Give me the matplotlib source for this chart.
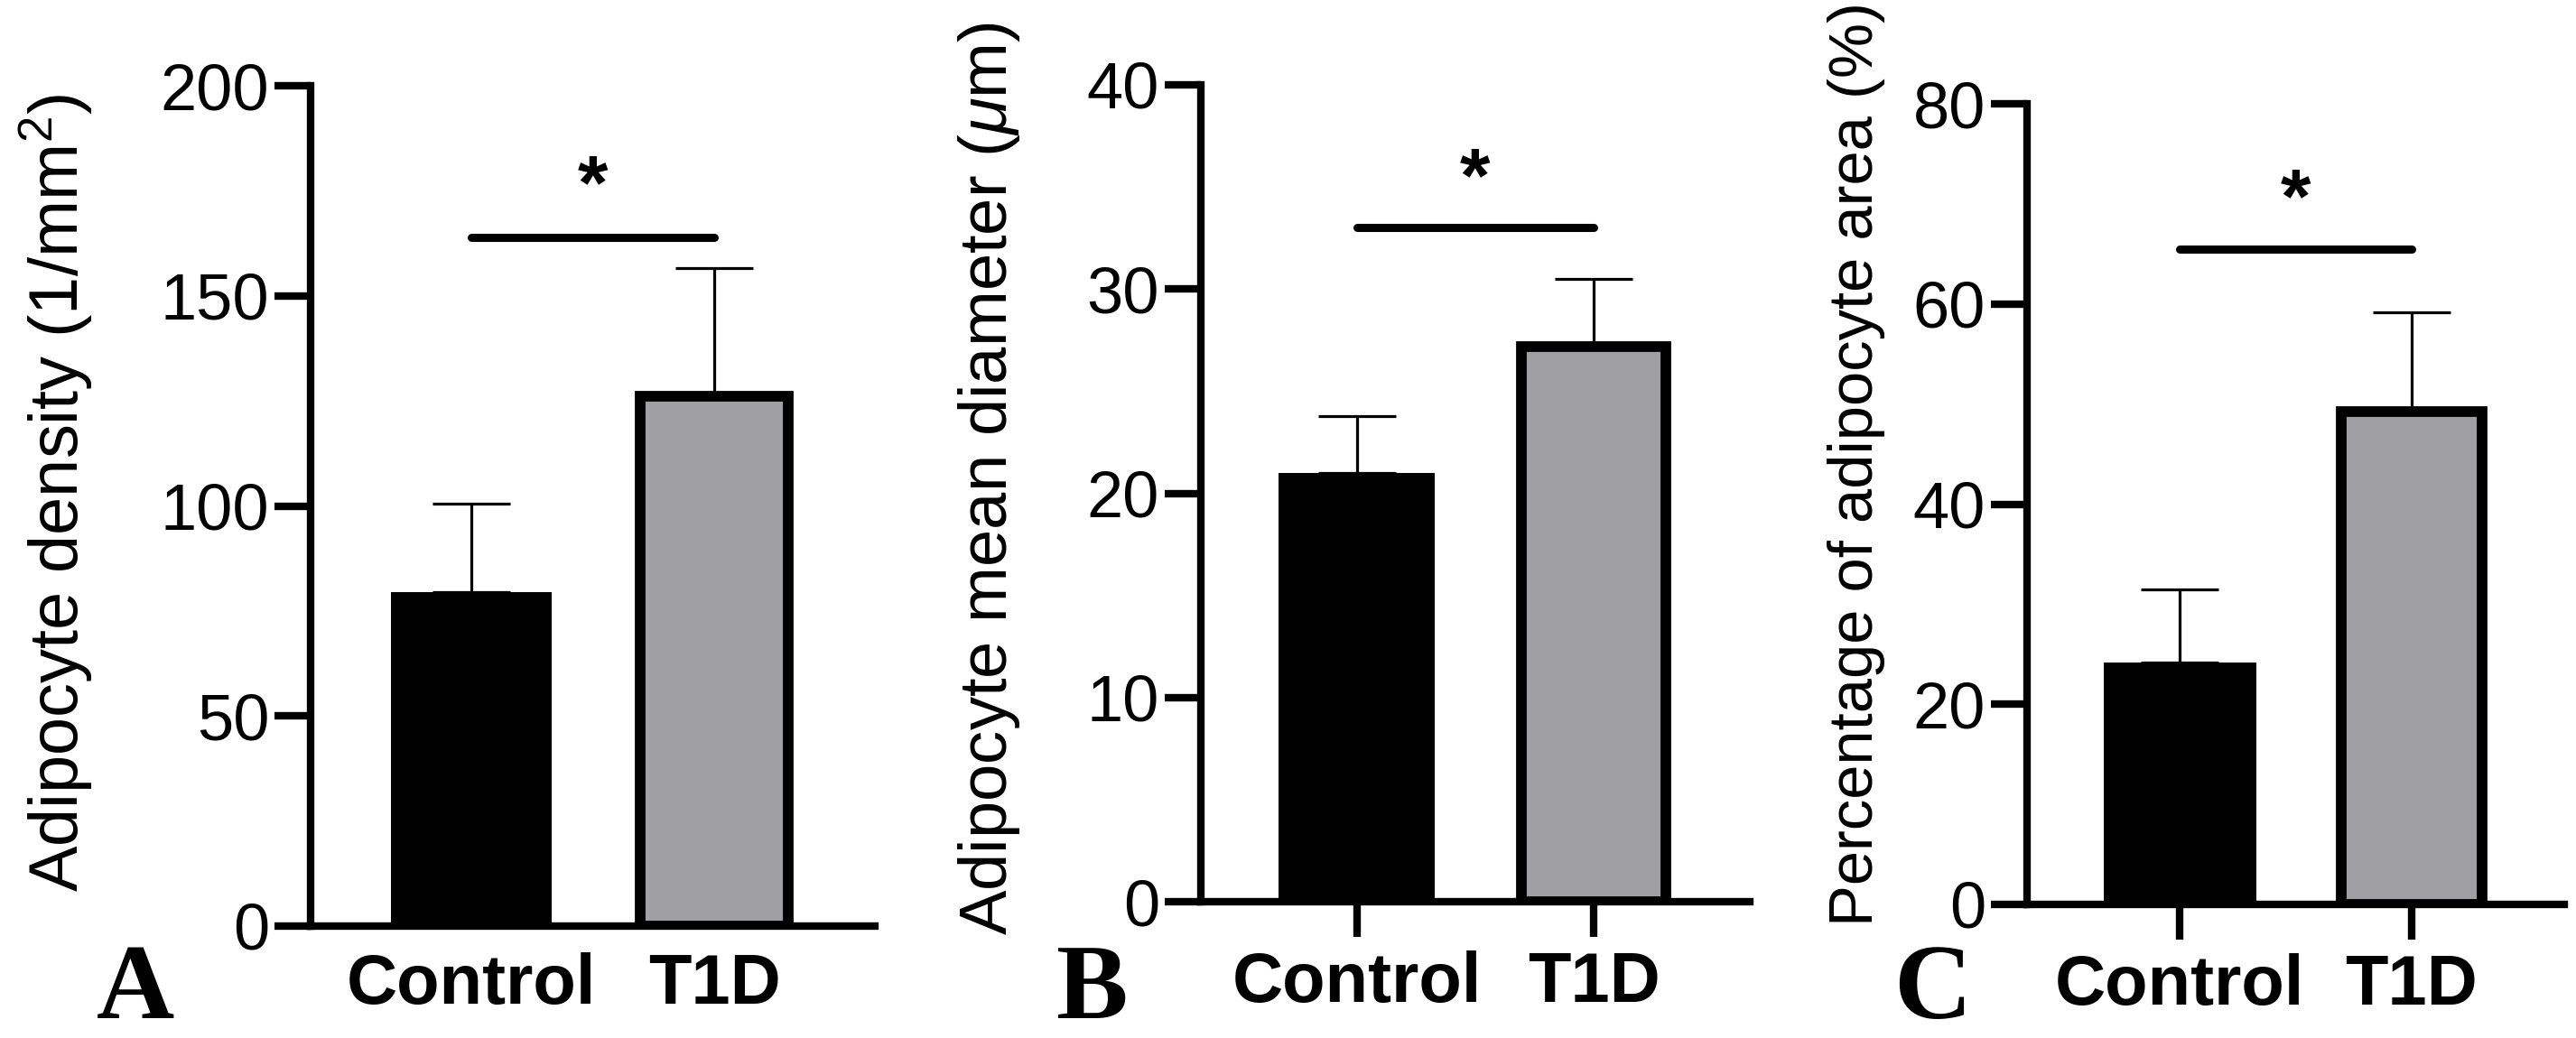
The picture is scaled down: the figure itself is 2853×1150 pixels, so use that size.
import matplotlib.pyplot as plt
import numpy as np

plt.rcParams['font.family'] = ['Liberation Sans', 'DejaVu Sans']
plt.rcParams['mathtext.fontset'] = 'custom'
plt.rcParams['mathtext.rm'] = 'Liberation Sans'
plt.rcParams['mathtext.it'] = 'Liberation Sans:italic'

#%% ======= DATA =============================
groups = ["Control", "T1D"]

density_mean = [79.5, 126.0]
density_sem = [21.0, 30.5]

diameter_mean = [21.0, 27.2]
diameter_sem = [2.8, 3.3]

area_mean = [24.2, 49.2]
area_sem = [7.3, 10.0]

ylabels = ["Adipocyte density (1/mm$^2$)",
           "Adipocyte mean diameter ($\\mu$m)",
           "Percentage of adipocyte area (%)"]
ymax = [200, 40, 80]
ystep = [50, 10, 20]
sig_level = [164, 33, 65.5]
star_level = [181, 36.4, 72.5]
panel_letters = ["A", "B", "C"]

#%% ======= LAYOUT =======
W, H = 2853, 1150
fig = plt.figure(figsize=(W / 100, H / 100), dpi=100)

# axes boxes in pixels: left, top, right, bottom
boxes = [(344, 95, 969, 1026), (1330, 94, 1938, 999), (2245, 115, 2840, 1002)]
label_xy = [(62, 546), (1095, 530), (2056, 514)]
label_size = [54.5, 53.5, 49.5]
letter_x = [150, 1209, 2140]
xtick_len = [0, 28, 28]
xtick_pad = [21, 11, 11]

means = [density_mean, diameter_mean, area_mean]
sems = [density_sem, diameter_sem, area_sem]

for i in range(3):
    l, t, r, b = boxes[i]
    ax = fig.add_axes([l / W, 1 - b / H, (r - l) / W, (b - t) / H])
    x = np.arange(len(groups))
    m, s = means[i], sems[i]

    ax.bar(x[0], m[0], width=0.66, color="black", zorder=3)
    ax.bar(x[1], m[1], width=0.61, color="#a09fa4", edgecolor="black",
           linewidth=8.5, zorder=3)
    ax.errorbar(x, m, yerr=[[0, 0], s], fmt="none", ecolor="black",
                elinewidth=2.3, capsize=31, capthick=2.3, zorder=2)

    # significance bar + star
    ax.plot([x[0], x[1]], [sig_level[i]] * 2, color="black", lw=6.5,
            solid_capstyle="round", zorder=4)
    ax.annotate("*", xy=(x.mean(), star_level[i]), xytext=(0, -0.56 * 62),
                textcoords="offset points", ha="center", va="baseline",
                fontsize=62, fontweight="bold")

    ax.set_xlim(-0.66, 1.66)
    ax.set_ylim(0, ymax[i])
    for side in ["top", "right"]:
        ax.spines[side].set_visible(False)
    for side in ["left", "bottom"]:
        ax.spines[side].set_linewidth(6)

    ax.set_yticks(np.arange(0, ymax[i] + 1, ystep[i]))
    ax.tick_params(axis="y", length=29, width=6, labelsize=52, pad=4)
    ax.set_xticks(x, groups, fontweight="bold", fontsize=56)
    ax.tick_params(axis="x", length=xtick_len[i], width=6, pad=xtick_pad[i])

    ax.set_ylabel(ylabels[i], fontsize=label_size[i], va="center", ha="center")
    ax.yaxis.set_label_coords(label_xy[i][0] / W, 1 - label_xy[i][1] / H,
                              transform=fig.transFigure)

    fig.text(letter_x[i] / W, 22 / H, panel_letters[i], family="Liberation Serif",
             fontweight="bold", fontsize=86, ha="center", va="baseline")

fig.savefig("out.png", dpi=100)
